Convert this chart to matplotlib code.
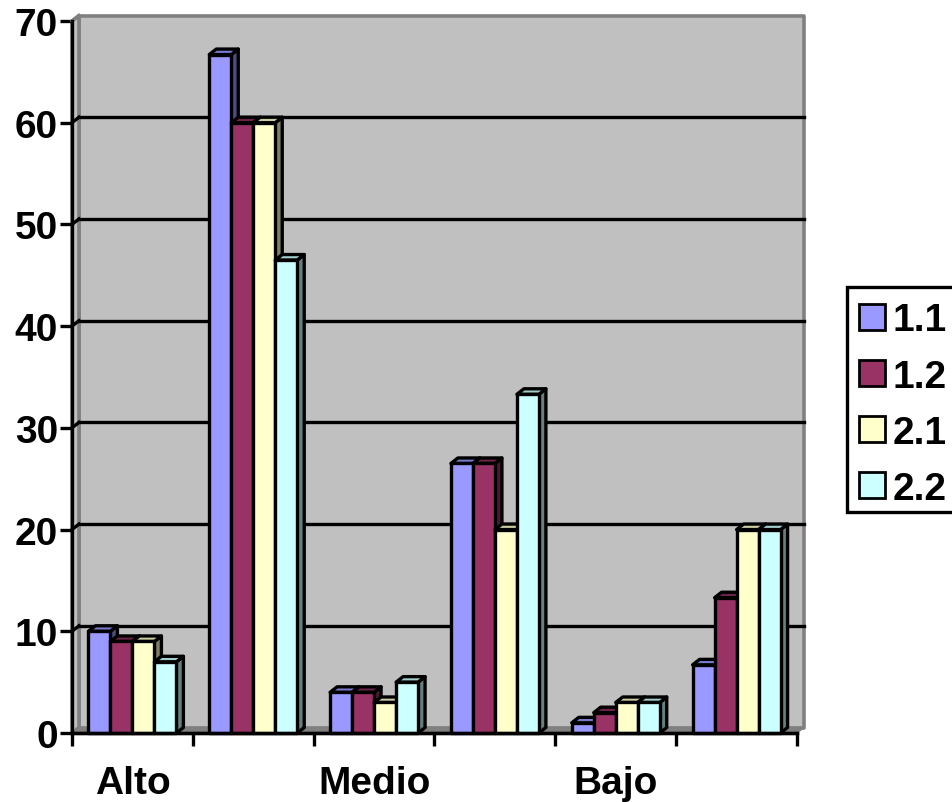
import matplotlib
matplotlib.use('Agg')
import matplotlib.pyplot as plt
from matplotlib.patches import Polygon, Rectangle, Patch
import numpy as np

plt.rcParams['font.family'] = ['Liberation Sans', 'DejaVu Sans']
plt.rcParams['font.weight'] = 'bold'

categories = ['Alto', '', 'Medio', '', 'Bajo', '']
series_names = ['1.1', '1.2', '2.1', '2.2']
s11 = [10, 66.7, 4, 26.5, 1, 6.7]
s12 = [9, 60, 4, 26.5, 2, 13.3]
s21 = [9, 60, 3, 20, 3, 20]
s22 = [7, 46.5, 5, 33.3, 3, 20]
series = [s11, s12, s21, s22]
yticks = [0, 10, 20, 30, 40, 50, 60, 70]

# front, top, side colour of each series
colors = [('#9999FF', '#7A7ACC', '#4D4D80'),
          ('#993366', '#6B2447', '#4D1A33'),
          ('#FFFFCC', '#CCCCA3', '#808066'),
          ('#CCFFFF', '#A3CCCC', '#668080')]

W, H = 952, 803
left, right, top, bottom = 72, 797, 22, 734
fig = plt.figure(figsize=(W / 100, H / 100), dpi=100)
ax = fig.add_axes([left / W, 1 - bottom / H, (right - left) / W, (bottom - top) / H])
ax.set_xlim(0, len(categories))
ax.set_ylim(0, 70)
ax.patch.set_visible(False)

# depth of the fake 3d, in data units
dx = 7 / ((right - left) / len(categories))
dy = 5.5 / ((bottom - top) / 70)
bar_w = 0.182
lw = 2.4


def poly(pts, fc, ec='black', z=1, lw=lw):
    # round joins, miter leaves spikes on the slanted corners
    ax.add_patch(Polygon(pts, closed=True, fc=fc, ec=ec, lw=lw, zorder=z,
                         clip_on=False, joinstyle='round'))


# walls
n = len(categories)
poly([(dx, dy), (n + dx, dy), (n + dx, 70 + dy), (dx, 70 + dy)], '#C0C0C0', '#808080', 1, 2.6)
poly([(0, 0), (dx, dy), (dx, 70 + dy), (0, 70)], '#C0C0C0', '#808080', 1, 2.6)
poly([(0, 0), (n, 0), (n + dx, dy), (dx, dy)], '#808080', '#808080', 1, 1)

# gridlines on the back wall, the top one stays grey
for v in yticks[1:]:
    if v < 70:
        ax.plot([dx, n + dx], [v + dy, v + dy], color='black', lw=lw, zorder=2, clip_on=False)
    ax.plot([0, dx], [v, v + dy], color='black' if v < 70 else '#808080', lw=lw, zorder=2, clip_on=False)
ax.plot([0, n], [0, 0], color='black', lw=lw, zorder=2, clip_on=False)

# bars, left to right so each front hides the side of the one before
z = 3
for c in range(n):
    for i, vals in enumerate(series):
        x0 = c + 0.5 + (i - 2) * bar_w
        x1 = x0 + bar_w
        v = vals[c]
        front, up, side = colors[i]
        poly([(x1, 0), (x1 + dx, dy), (x1 + dx, v + dy), (x1, v)], side, z=z)
        poly([(x0, v), (x1, v), (x1 + dx, v + dy), (x0 + dx, v + dy)], up, z=z)
        ax.add_patch(Rectangle((x0, 0), bar_w, v, fc=front, ec='black', lw=lw,
                               zorder=z, clip_on=False, joinstyle='round'))
        z += 1

for s in ['top', 'right']:
    ax.spines[s].set_visible(False)
for s in ['left', 'bottom']:
    ax.spines[s].set_linewidth(lw)
    ax.spines[s].set_zorder(z)

ax.set_yticks(yticks)
ax.set_xticks(np.arange(n + 1))
ax.set_xticklabels([])
ax.set_xticks(np.arange(n) + 0.5, minor=True)
ax.set_xticklabels(categories, minor=True)
ax.tick_params(axis='x', which='major', length=9, width=lw)
ax.tick_params(axis='x', which='minor', length=0, pad=23, labelsize=28)
ax.tick_params(axis='y', length=9, width=lw, labelsize=28, pad=1)

# legend box runs off the right edge, so the frame is drawn on its own
fig.add_artist(Rectangle((847 / W, 1 - 513 / H), 120 / W, 225 / H, fc='white', ec='black', lw=lw,
                         transform=fig.transFigure))
handles = [Patch(fc=c[0], ec='black', lw=2.0) for c in colors]
leg = fig.legend(handles, series_names, loc='upper left', bbox_to_anchor=(847 / W, 1 - 291 / H),
                 bbox_transform=fig.transFigure, fontsize=28, frameon=False,
                 borderaxespad=0, borderpad=0.32,
                 handlelength=0.65, handleheight=0.65, handletextpad=0.2, labelspacing=0.52)

fig.savefig('out.png', dpi=100)
